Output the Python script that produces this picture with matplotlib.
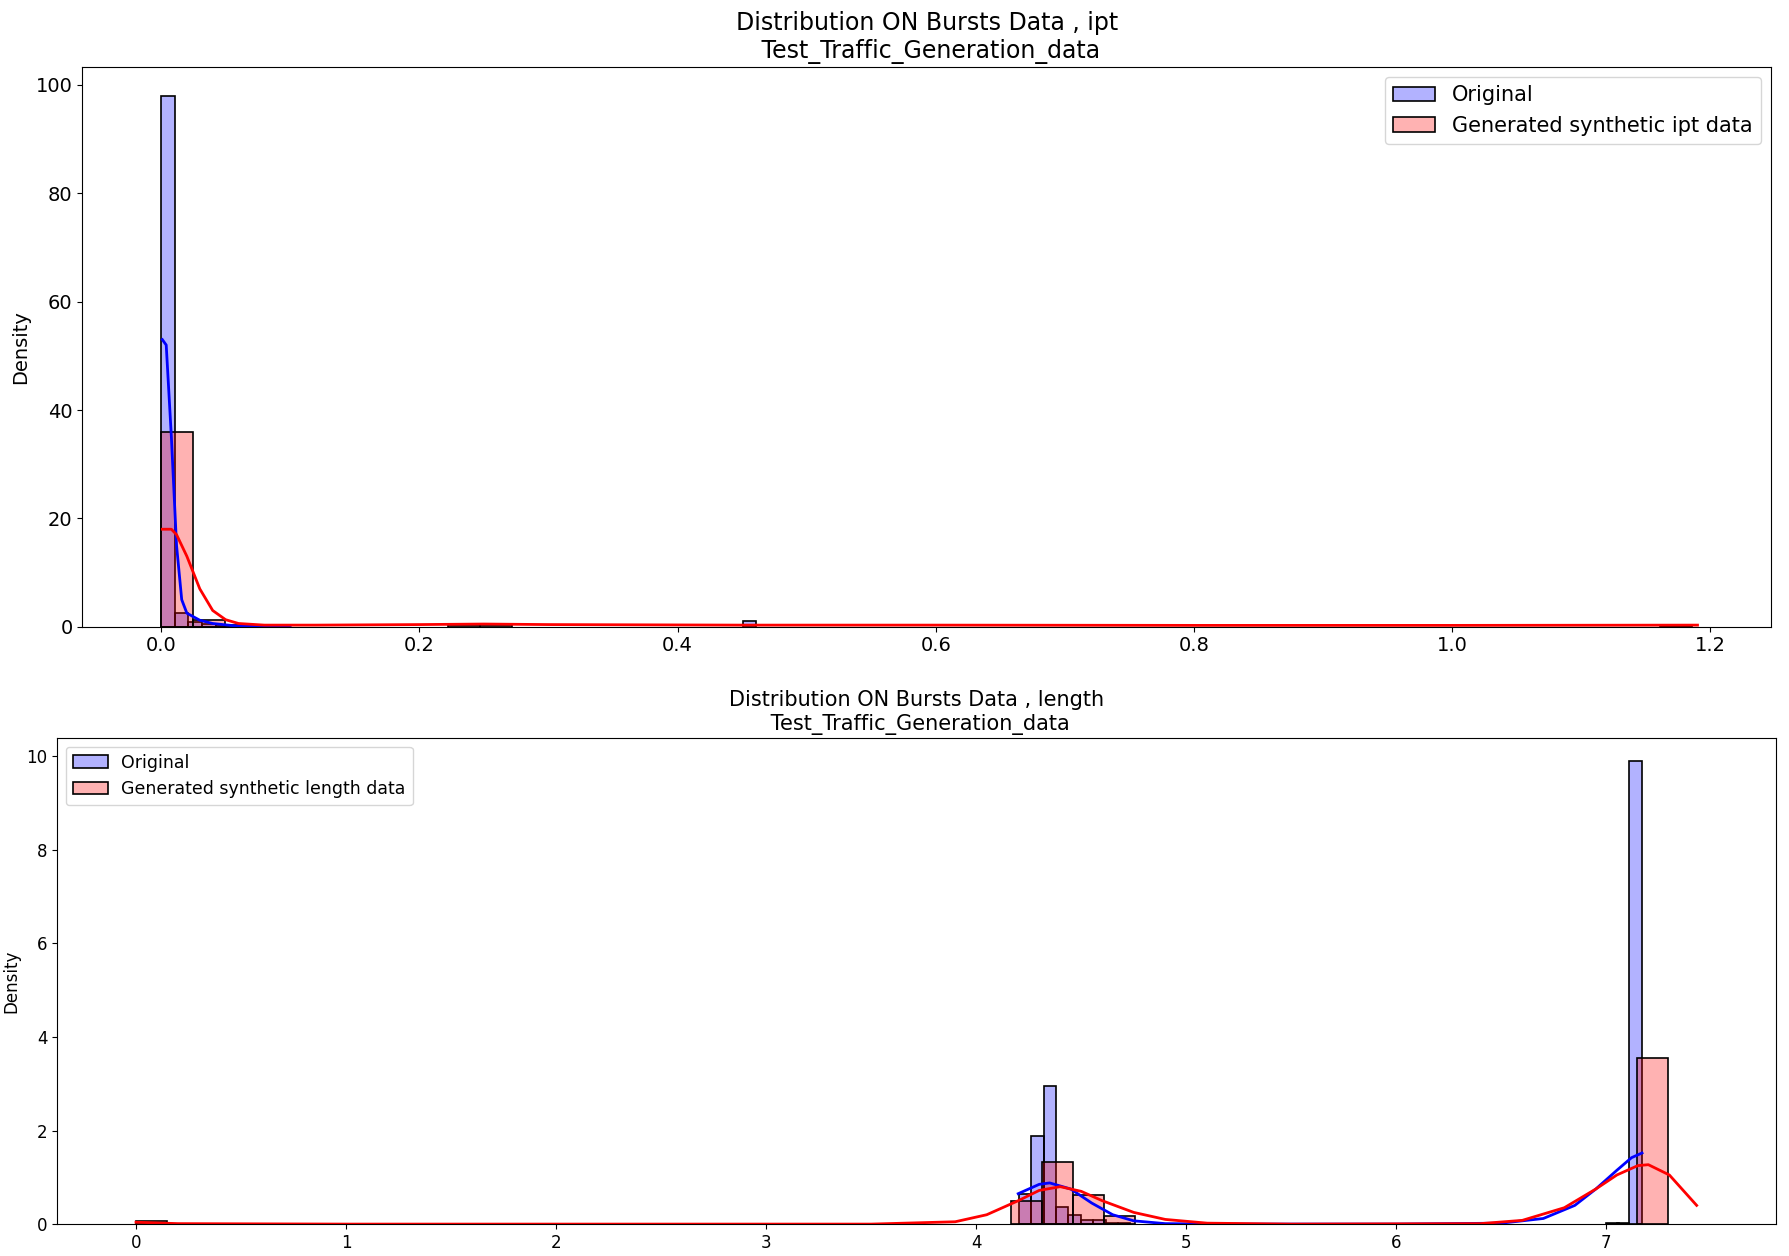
import matplotlib
matplotlib.use("Agg")
import matplotlib.pyplot as plt

# ---------- top panel: ipt ----------
ipt_orig_left = [0.0, 0.0106, 0.0212, 0.0318, 0.0424, 0.4505]
ipt_orig_h = [98.0, 2.5, 0.8, 0.5, 0.3, 1.0]
ipt_orig_w = 0.0106
ipt_gen_left = [0.0, 0.0247, 0.0494, 0.0741, 0.222, 0.247, 1.161]
ipt_gen_h = [36.0, 1.2, 0.4, 0.2, 0.3, 0.3, 0.2]
ipt_gen_w = 0.0247
ipt_kde_orig_x = [0.001, 0.004, 0.008, 0.012, 0.016, 0.02, 0.03, 0.04, 0.06, 0.1]
ipt_kde_orig_y = [53, 52, 35, 15, 5, 2.5, 1.2, 0.6, 0.1, 0.0]
ipt_kde_gen_x = [0.001, 0.008, 0.012, 0.02, 0.03, 0.04, 0.05, 0.06, 0.08, 0.12, 0.2, 0.25, 0.3, 0.45, 0.6, 0.8, 1.0, 1.19]
ipt_kde_gen_y = [18, 18, 17, 13, 7, 3, 1.3, 0.6, 0.3, 0.3, 0.4, 0.5, 0.4, 0.3, 0.3, 0.25, 0.25, 0.3]

# ---------- bottom panel: length ----------
len_orig_left = [4.204, 4.263, 4.322, 4.380, 4.439, 4.498, 4.557, 4.615, 4.674, 7.0, 7.05, 7.11]
len_orig_h = [0.64, 1.89, 2.95, 0.36, 0.2, 0.09, 0.09, 0.02, 0.02, 0.02, 0.02, 9.9]
len_orig_w = 0.0587
len_gen_left = [0.0, 4.164, 4.312, 4.46, 4.608, 7.145]
len_gen_h = [0.07, 0.5, 1.33, 0.63, 0.18, 3.55]
len_gen_w = 0.148
len_kde_orig_x = [4.2, 4.3, 4.35, 4.45, 4.55, 4.65, 4.75, 4.9, 5.2, 6.0, 6.5, 6.7, 6.85, 6.95, 7.05, 7.12, 7.17]
len_kde_orig_y = [0.65, 0.85, 0.88, 0.75, 0.45, 0.2, 0.07, 0.01, 0.0, 0.0, 0.02, 0.12, 0.4, 0.75, 1.15, 1.42, 1.52]
len_kde_gen_x = [0.0, 0.2, 1.0, 3.5, 3.9, 4.05, 4.2, 4.3, 4.4, 4.5, 4.6, 4.75, 4.9, 5.1, 5.5, 6.4, 6.6, 6.8, 6.95, 7.05, 7.15, 7.2, 7.3, 7.38, 7.43]
len_kde_gen_y = [0.04, 0.01, 0.0, 0.0, 0.05, 0.2, 0.5, 0.72, 0.8, 0.7, 0.5, 0.25, 0.1, 0.02, 0.0, 0.01, 0.08, 0.35, 0.75, 1.05, 1.25, 1.27, 1.05, 0.65, 0.4]

fig = plt.figure(figsize=(17.89, 12.56), dpi=100)
ax1 = fig.add_axes([0.046, 0.501, 0.944, 0.446])
ax2 = fig.add_axes([0.032, 0.0254, 0.961, 0.387])

def panel(ax, ol, oh, ow, gl, gh, gw, kox, koy, kgx, kgy, lab, fs_leg):
    ax.bar(ol, oh, width=ow, align='edge', color=(0, 0, 1, 0.3), edgecolor='black', linewidth=1.2, label='Original')
    ax.bar(gl, gh, width=gw, align='edge', color=(1, 0, 0, 0.3), edgecolor='black', linewidth=1.2, label=lab)
    ax.plot(kox, koy, color='blue', lw=2)
    ax.plot(kgx, kgy, color='red', lw=2)

panel(ax1, ipt_orig_left, ipt_orig_h, ipt_orig_w, ipt_gen_left, ipt_gen_h, ipt_gen_w,
      ipt_kde_orig_x, ipt_kde_orig_y, ipt_kde_gen_x, ipt_kde_gen_y, 'Generated synthetic ipt data', 14)
ax1.set_xlim(-0.061, 1.247)
ax1.set_ylim(0, 103.4)
ax1.set_ylabel('Density', fontsize=14)
ax1.set_title('Distribution ON Bursts Data , ipt\n Test_Traffic_Generation_data', fontsize=17)
ax1.tick_params(labelsize=14)
ax1.legend(loc='upper right', fontsize=15)

panel(ax2, len_orig_left, len_orig_h, len_orig_w, len_gen_left, len_gen_h, len_gen_w,
      len_kde_orig_x, len_kde_orig_y, len_kde_gen_x, len_kde_gen_y, 'Generated synthetic length data', 12)
ax2.set_xlim(-0.375, 7.81)
ax2.set_ylim(0, 10.39)
ax2.set_ylabel('Density', fontsize=12)
ax2.set_title('Distribution ON Bursts Data , length\n Test_Traffic_Generation_data', fontsize=15)
ax2.tick_params(labelsize=12)
ax2.legend(loc='upper left', fontsize=12.5)

fig.savefig('out.png', dpi=100)
